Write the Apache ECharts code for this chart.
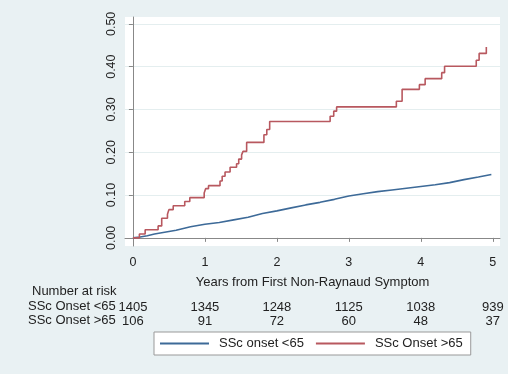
<!DOCTYPE html>
<html>
<head>
<meta charset="utf-8">
<script src="https://cdn.jsdelivr.net/npm/echarts@6/dist/echarts.min.js"></script>
<style>
  html, body { margin: 0; padding: 0; background: #e9f1f3; }
  #chart { width: 508px; height: 374px; }
</style>
</head>
<body>
<div id="chart"></div>
<script>
// tick positions
const xTicks = [0, 1, 2, 3, 4, 5]
const yTicks = [0, 0.1, 0.2, 0.3, 0.4, 0.5]

// SSc onset <65 (cumulative incidence)
const lowT = [0, 0.1, 0.2, 0.3, 0.4, 0.5, 0.6, 0.7, 0.8, 0.9, 1.0, 1.2, 1.4, 1.6, 1.8, 2.0, 2.2, 2.4, 2.6, 2.8, 3.0, 3.2, 3.4, 3.6, 3.8, 4.0, 4.2, 4.4, 4.6, 4.8, 4.98]
const lowY = [0, 0.002, 0.005, 0.009, 0.012, 0.015, 0.018, 0.022, 0.026, 0.029, 0.032, 0.036, 0.042, 0.048, 0.057, 0.063, 0.070, 0.077, 0.083, 0.090, 0.098, 0.103, 0.108, 0.112, 0.116, 0.120, 0.124, 0.129, 0.136, 0.142, 0.148]

// SSc onset >65 (step curve)
const highT = [0, 0.09, 0.17, 0.35, 0.40, 0.48, 0.50, 0.56, 0.72, 0.79, 0.99, 1.01, 1.05, 1.21, 1.24, 1.28, 1.35, 1.44, 1.47, 1.51, 1.53, 1.58, 1.82, 1.86, 1.90, 2.74, 2.79, 2.83, 3.66, 3.74, 3.98, 4.06, 4.29, 4.33, 4.77, 4.81, 4.91]
const highY = [0, 0.009, 0.019, 0.028, 0.046, 0.055, 0.066, 0.075, 0.085, 0.094, 0.105, 0.115, 0.122, 0.133, 0.144, 0.154, 0.165, 0.173, 0.184, 0.194, 0.202, 0.223, 0.241, 0.253, 0.272, 0.284, 0.296, 0.306, 0.319, 0.347, 0.358, 0.372, 0.386, 0.401, 0.415, 0.431, 0.446]

// number at risk
const riskLow = [1405, 1345, 1248, 1125, 1038, 939]
const riskHigh = [106, 91, 72, 60, 48, 37]

const blue = '#3d6a98'
const red = '#b8585f'
const font = 'Liberation Sans, Arial, sans-serif'

const chart = echarts.init(document.getElementById('chart'))
const option = {
  backgroundColor: '#e9f1f3',
  animation: false,
  textStyle: { fontFamily: font, color: '#222' },
  grid: {
    left: 125, top: 17, right: 8, bottom: 128,
    show: true, backgroundColor: '#ffffff', borderWidth: 0
  },
  legend: {
    left: 154, top: 332,
    padding: [5, 8, 5, 6],
    itemGap: 12,
    itemWidth: 49, itemHeight: 2,
    backgroundColor: '#ffffff',
    borderColor: '#999',
    borderWidth: 1,
    borderRadius: 0,
    textStyle: { fontFamily: font, fontSize: 13, color: '#222', padding: [0, 0, 0, 5] },
    data: [
      { name: 'SSc onset <65', icon: 'rect' },
      { name: 'SSc Onset >65', icon: 'rect' }
    ]
  },
  xAxis: {
    type: 'value',
    min: -0.11, max: 5.1,
    name: 'Years from First Non-Raynaud Symptom',
    nameLocation: 'middle',
    nameGap: 30,
    nameTextStyle: { fontFamily: font, fontSize: 13, color: '#222' },
    axisLine: { show: true, lineStyle: { color: '#888', width: 1 } },
    axisTick: { show: true, length: 4, customValues: xTicks, lineStyle: { color: '#888' } },
    axisLabel: { customValues: xTicks, fontSize: 12.5, color: '#222', margin: 10, formatter: v => String(v) },
    splitLine: { show: false }
  },
  yAxis: {
    type: 'value',
    min: -0.019, max: 0.516,
    axisLine: { show: true, lineStyle: { color: '#888', width: 1 } },
    axisTick: { show: true, length: 4, customValues: yTicks, lineStyle: { color: '#888' } },
    axisLabel: { customValues: yTicks, rotate: 90, fontSize: 12.5, color: '#222', margin: 7, formatter: v => v.toFixed(2) },
    splitLine: { show: true, lineStyle: { color: '#e4eeef', width: 1 } }
  },
  series: [{
    name: 'SSc onset <65',
    type: 'line',
    color: blue,
    showSymbol: false,
    lineStyle: { color: blue, width: 1.6 },
    data: lowT.map((t, i) => [t, lowY[i]])
  }, {
    name: 'SSc Onset >65',
    type: 'line',
    step: 'end',
    color: red,
    showSymbol: false,
    lineStyle: { color: red, width: 1.6 },
    data: highT.map((t, i) => [t, highY[i]])
  }]
}
chart.setOption(option)

// number at risk table, placed with the x axis scale
const rowY = [307, 321]
const tableText = [{
  type: 'text', left: 32, top: 285,
  style: { text: 'Number at risk', font: '13px ' + font, fill: '#222' }
}, {
  type: 'text', left: 28, top: rowY[0] - 7,
  style: { text: 'SSc Onset <65', font: '13px ' + font, fill: '#222' }
}, {
  type: 'text', left: 28, top: rowY[1] - 7,
  style: { text: 'SSc Onset >65', font: '13px ' + font, fill: '#222' }
}]
xTicks.forEach((t, i) => {
  const px = chart.convertToPixel({ xAxisIndex: 0 }, t)
  tableText.push({
    type: 'text', x: px, y: rowY[0],
    style: { text: String(riskLow[i]), font: '13px ' + font, fill: '#222', align: 'center', verticalAlign: 'middle' }
  })
  tableText.push({
    type: 'text', x: px, y: rowY[1],
    style: { text: String(riskHigh[i]), font: '13px ' + font, fill: '#222', align: 'center', verticalAlign: 'middle' }
  })
})
chart.setOption({ graphic: tableText })
</script>
</body>
</html>
